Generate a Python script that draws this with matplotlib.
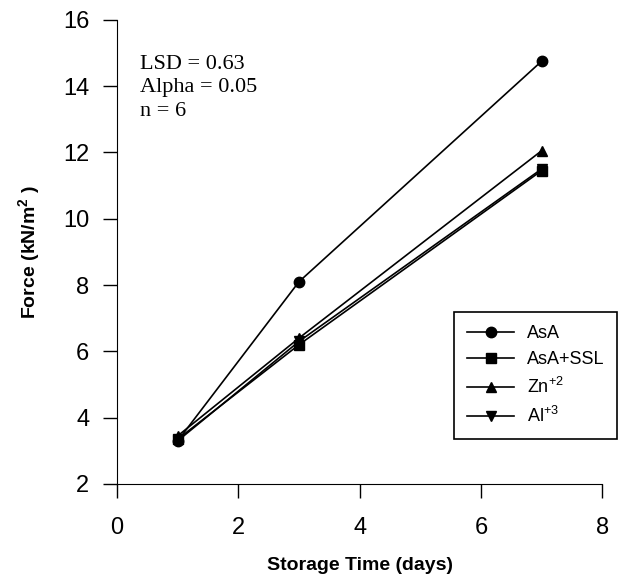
import matplotlib
matplotlib.use("Agg")
import matplotlib.pyplot as plt

plt.rcParams['font.family'] = ['Liberation Sans', 'DejaVu Sans']
plt.rcParams['mathtext.fontset'] = 'custom'
plt.rcParams['mathtext.rm'] = 'Liberation Sans'
plt.rcParams['mathtext.bf'] = 'Liberation Sans:bold'

# storage days and force values
days = [1, 3, 7]
asa = [3.3, 8.1, 14.75]
asa_ssl = [3.35, 6.2, 11.45]
zn = [3.45, 6.4, 12.05]
al = [3.3, 6.3, 11.5]

series = [
    ("AsA", asa, "o"),
    ("AsA+SSL", asa_ssl, "s"),
    ("Zn$^{+2}$", zn, "^"),
    ("Al$^{+3}$", al, "v"),
]

fig = plt.figure(figsize=(6.36, 5.81), dpi=100)
ax = fig.add_axes([0.184, 0.167, 0.763, 0.799])

for label, vals, m in series:
    ax.plot(days, vals, color="black", marker=m, markersize=7.5, linewidth=1.2, label=label)

ax.set_xlim(0, 8)
ax.set_ylim(2, 16)
ax.set_xticks([0, 2, 4, 6, 8])
ax.set_yticks([2, 4, 6, 8, 10, 12, 14, 16])
ax.spines["top"].set_visible(False)
ax.spines["right"].set_visible(False)
ax.tick_params(direction="out", length=10, labelsize=17, width=1)
ax.tick_params(axis="y", pad=10)
ax.tick_params(axis="x", pad=14)

ax.set_xlabel("Storage Time (days)", fontsize=14, fontweight="bold", labelpad=13)
ax.set_ylabel("Force (kN/m$^{\\mathbf{2}}$ )", fontsize=14, fontweight="bold", labelpad=14)

# stats note in serif face
ax.text(0.38, 14.95, "LSD = 0.63\nAlpha = 0.05\nn = 6", family="Liberation Serif",
        fontsize=16, va="top", linespacing=1.32)

leg = ax.legend(loc="lower right", bbox_to_anchor=(1.03, 0.097), borderaxespad=0,
                fontsize=13, fancybox=False, edgecolor="black", framealpha=1,
                handlelength=2.6, handletextpad=0.7, borderpad=0.7, labelspacing=0.5)
leg.get_frame().set_linewidth(1.2)

fig.savefig("out.png", dpi=100)
